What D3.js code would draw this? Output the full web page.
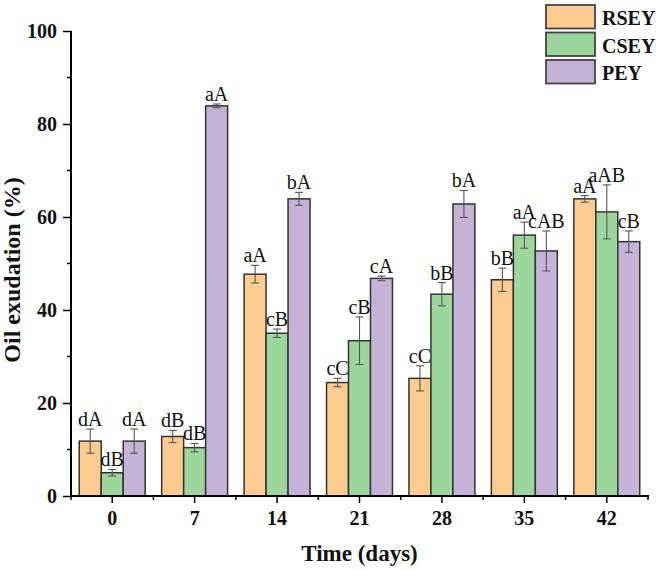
<!DOCTYPE html>
<html>
<head>
<meta charset="utf-8">
<script src="https://cdn.jsdelivr.net/npm/d3@7"></script>
<style>
  body { margin: 0; background: #fff; }
  svg { display: block; font-family: "Liberation Serif", "Times New Roman", serif; }
</style>
</head>
<body>
<div id="chart"></div>
<script>
const days = ["0", "7", "14", "21", "28", "35", "42"];
const series = ["RSEY", "CSEY", "PEY"];
const colors = ["#fecb90", "#9dd69d", "#c4b3d7"];

const rsey = [11.8, 12.8, 47.7, 24.4, 25.3, 46.5, 63.9];
const rseyErr = [2.6, 1.3, 1.9, 0.9, 2.7, 2.5, 0.7];
const rseyLbl = ["dA", "dB", "aA", "cC", "cC", "bB", "aA"];

const csey = [5.0, 10.4, 35.0, 33.4, 43.4, 56.1, 61.1];
const cseyErr = [0.7, 0.9, 0.9, 5.1, 2.5, 2.8, 5.8];
const cseyLbl = ["dB", "dB", "cB", "cB", "bB", "aA", "aAB"];

const pey = [11.8, 83.9, 63.9, 46.8, 62.8, 52.7, 54.7];
const peyErr = [2.6, 0.4, 1.4, 0.5, 2.9, 4.3, 2.3];
const peyLbl = ["dA", "aA", "bA", "cA", "bA", "cAB", "cB"];

const yTicks = [0, 20, 40, 60, 80, 100];
const yMinor = [10, 30, 50, 70, 90];

const width = 666, height = 571;
const margin = {top: 31, right: 18, bottom: 75, left: 71};

const svg = d3.select("#chart").append("svg")
    .attr("width", width)
    .attr("height", height);

const xScale = d3.scaleBand()
    .domain(days)
    .range([margin.left, width - margin.right])
    .paddingInner(0).paddingOuter(0);

const xSub = d3.scaleBand()
    .domain(series)
    .range([xScale.bandwidth() * 0.1, xScale.bandwidth() * 0.9]);

const yScale = d3.scaleLinear()
    .domain([0, 100])
    .range([height - margin.bottom, margin.top]);

const rows = [];
const vals = [rsey, csey, pey], errs = [rseyErr, cseyErr, peyErr], lbls = [rseyLbl, cseyLbl, peyLbl];
days.forEach((d, i) => {
  series.forEach((s, j) => {
    rows.push({day: d, s: s, color: colors[j], v: vals[j][i], e: errs[j][i], lbl: lbls[j][i]});
  });
});

// bars
svg.append("g").selectAll("rect")
  .data(rows)
  .join("rect")
    .attr("x", d => xScale(d.day) + xSub(d.s))
    .attr("y", d => yScale(d.v))
    .attr("width", xSub.bandwidth())
    .attr("height", d => yScale(0) - yScale(d.v))
    .attr("fill", d => d.color)
    .attr("stroke", "#333")
    .attr("stroke-width", 1.5);

// error bars
const eb = svg.append("g").attr("stroke", "#555").attr("stroke-width", 1.1);
rows.forEach(d => {
  const cx = xScale(d.day) + xSub(d.s) + xSub.bandwidth() / 2;
  eb.append("line").attr("x1", cx).attr("x2", cx)
    .attr("y1", yScale(d.v + d.e)).attr("y2", yScale(d.v - d.e));
  [d.v + d.e, d.v - d.e].forEach(v => {
    eb.append("line").attr("x1", cx - 4).attr("x2", cx + 4)
      .attr("y1", yScale(v)).attr("y2", yScale(v));
  });
});

// significance letters
svg.append("g").selectAll("text")
  .data(rows)
  .join("text")
    .attr("x", d => xScale(d.day) + xSub(d.s) + xSub.bandwidth() / 2)
    .attr("y", d => yScale(d.v + d.e) - 3)
    .attr("text-anchor", "middle")
    .attr("font-size", 20)
    .attr("fill", "#111")
    .text(d => d.lbl);

// y axis
const yAxis = d3.axisLeft(yScale).tickValues(yTicks).tickSize(8).tickPadding(6);
const gy = svg.append("g")
    .attr("transform", `translate(${margin.left},0)`)
    .call(yAxis);
gy.select(".domain").attr("stroke-width", 2).attr("d", `M0,${yScale(0)}V${yScale(100)}`);
gy.selectAll(".tick line").attr("stroke-width", 1.5);
gy.selectAll(".tick text")
    .attr("font-size", 20).attr("font-weight", "bold")
    .attr("font-family", "Liberation Serif").attr("fill", "#111");
gy.selectAll(".minor").data(yMinor).join("line")
    .attr("class", "minor")
    .attr("x1", -4).attr("x2", 0)
    .attr("y1", d => yScale(d)).attr("y2", d => yScale(d))
    .attr("stroke", "#000").attr("stroke-width", 1.5);

// x axis
const xAxis = d3.axisBottom(xScale).tickSize(7).tickPadding(8);
const gx = svg.append("g")
    .attr("transform", `translate(0,${yScale(0)})`)
    .call(xAxis);
gx.select(".domain").attr("stroke-width", 2)
    .attr("d", `M${margin.left},0H${width - margin.right + 1}`);
gx.selectAll(".tick line").attr("stroke-width", 1.5);
gx.selectAll(".tick text")
    .attr("font-size", 20).attr("font-weight", "bold")
    .attr("font-family", "Liberation Serif").attr("fill", "#111");
const bounds = days.map(d => xScale(d)).concat([xScale(days[days.length - 1]) + xScale.bandwidth()]);
gx.selectAll(".minor").data(bounds).join("line")
    .attr("class", "minor")
    .attr("x1", d => d).attr("x2", d => d)
    .attr("y1", 0).attr("y2", 4)
    .attr("stroke", "#000").attr("stroke-width", 1.5);

// axis titles
svg.append("text")
    .attr("x", (margin.left + width - margin.right) / 2)
    .attr("y", 561)
    .attr("text-anchor", "middle")
    .attr("font-size", 23).attr("font-weight", "bold")
    .attr("fill", "#111")
    .text("Time (days)");

svg.append("text")
    .attr("transform", `translate(20,270) rotate(-90)`)
    .attr("text-anchor", "middle")
    .attr("font-size", 24).attr("font-weight", "bold")
    .attr("fill", "#111")
    .text("Oil exudation (%)");

// legend
const legend = svg.append("g").attr("transform", "translate(546,5)");
series.forEach((s, j) => {
  const row = legend.append("g").attr("transform", `translate(0,${j * 27.5})`);
  row.append("rect")
      .attr("width", 49).attr("height", 23.5)
      .attr("fill", colors[j])
      .attr("stroke", "#444").attr("stroke-width", 1.8);
  row.append("text")
      .attr("x", 56).attr("y", 20)
      .attr("font-size", 20).attr("font-weight", "bold")
      .attr("fill", "#111")
      .text(s);
});
</script>
</body>
</html>
